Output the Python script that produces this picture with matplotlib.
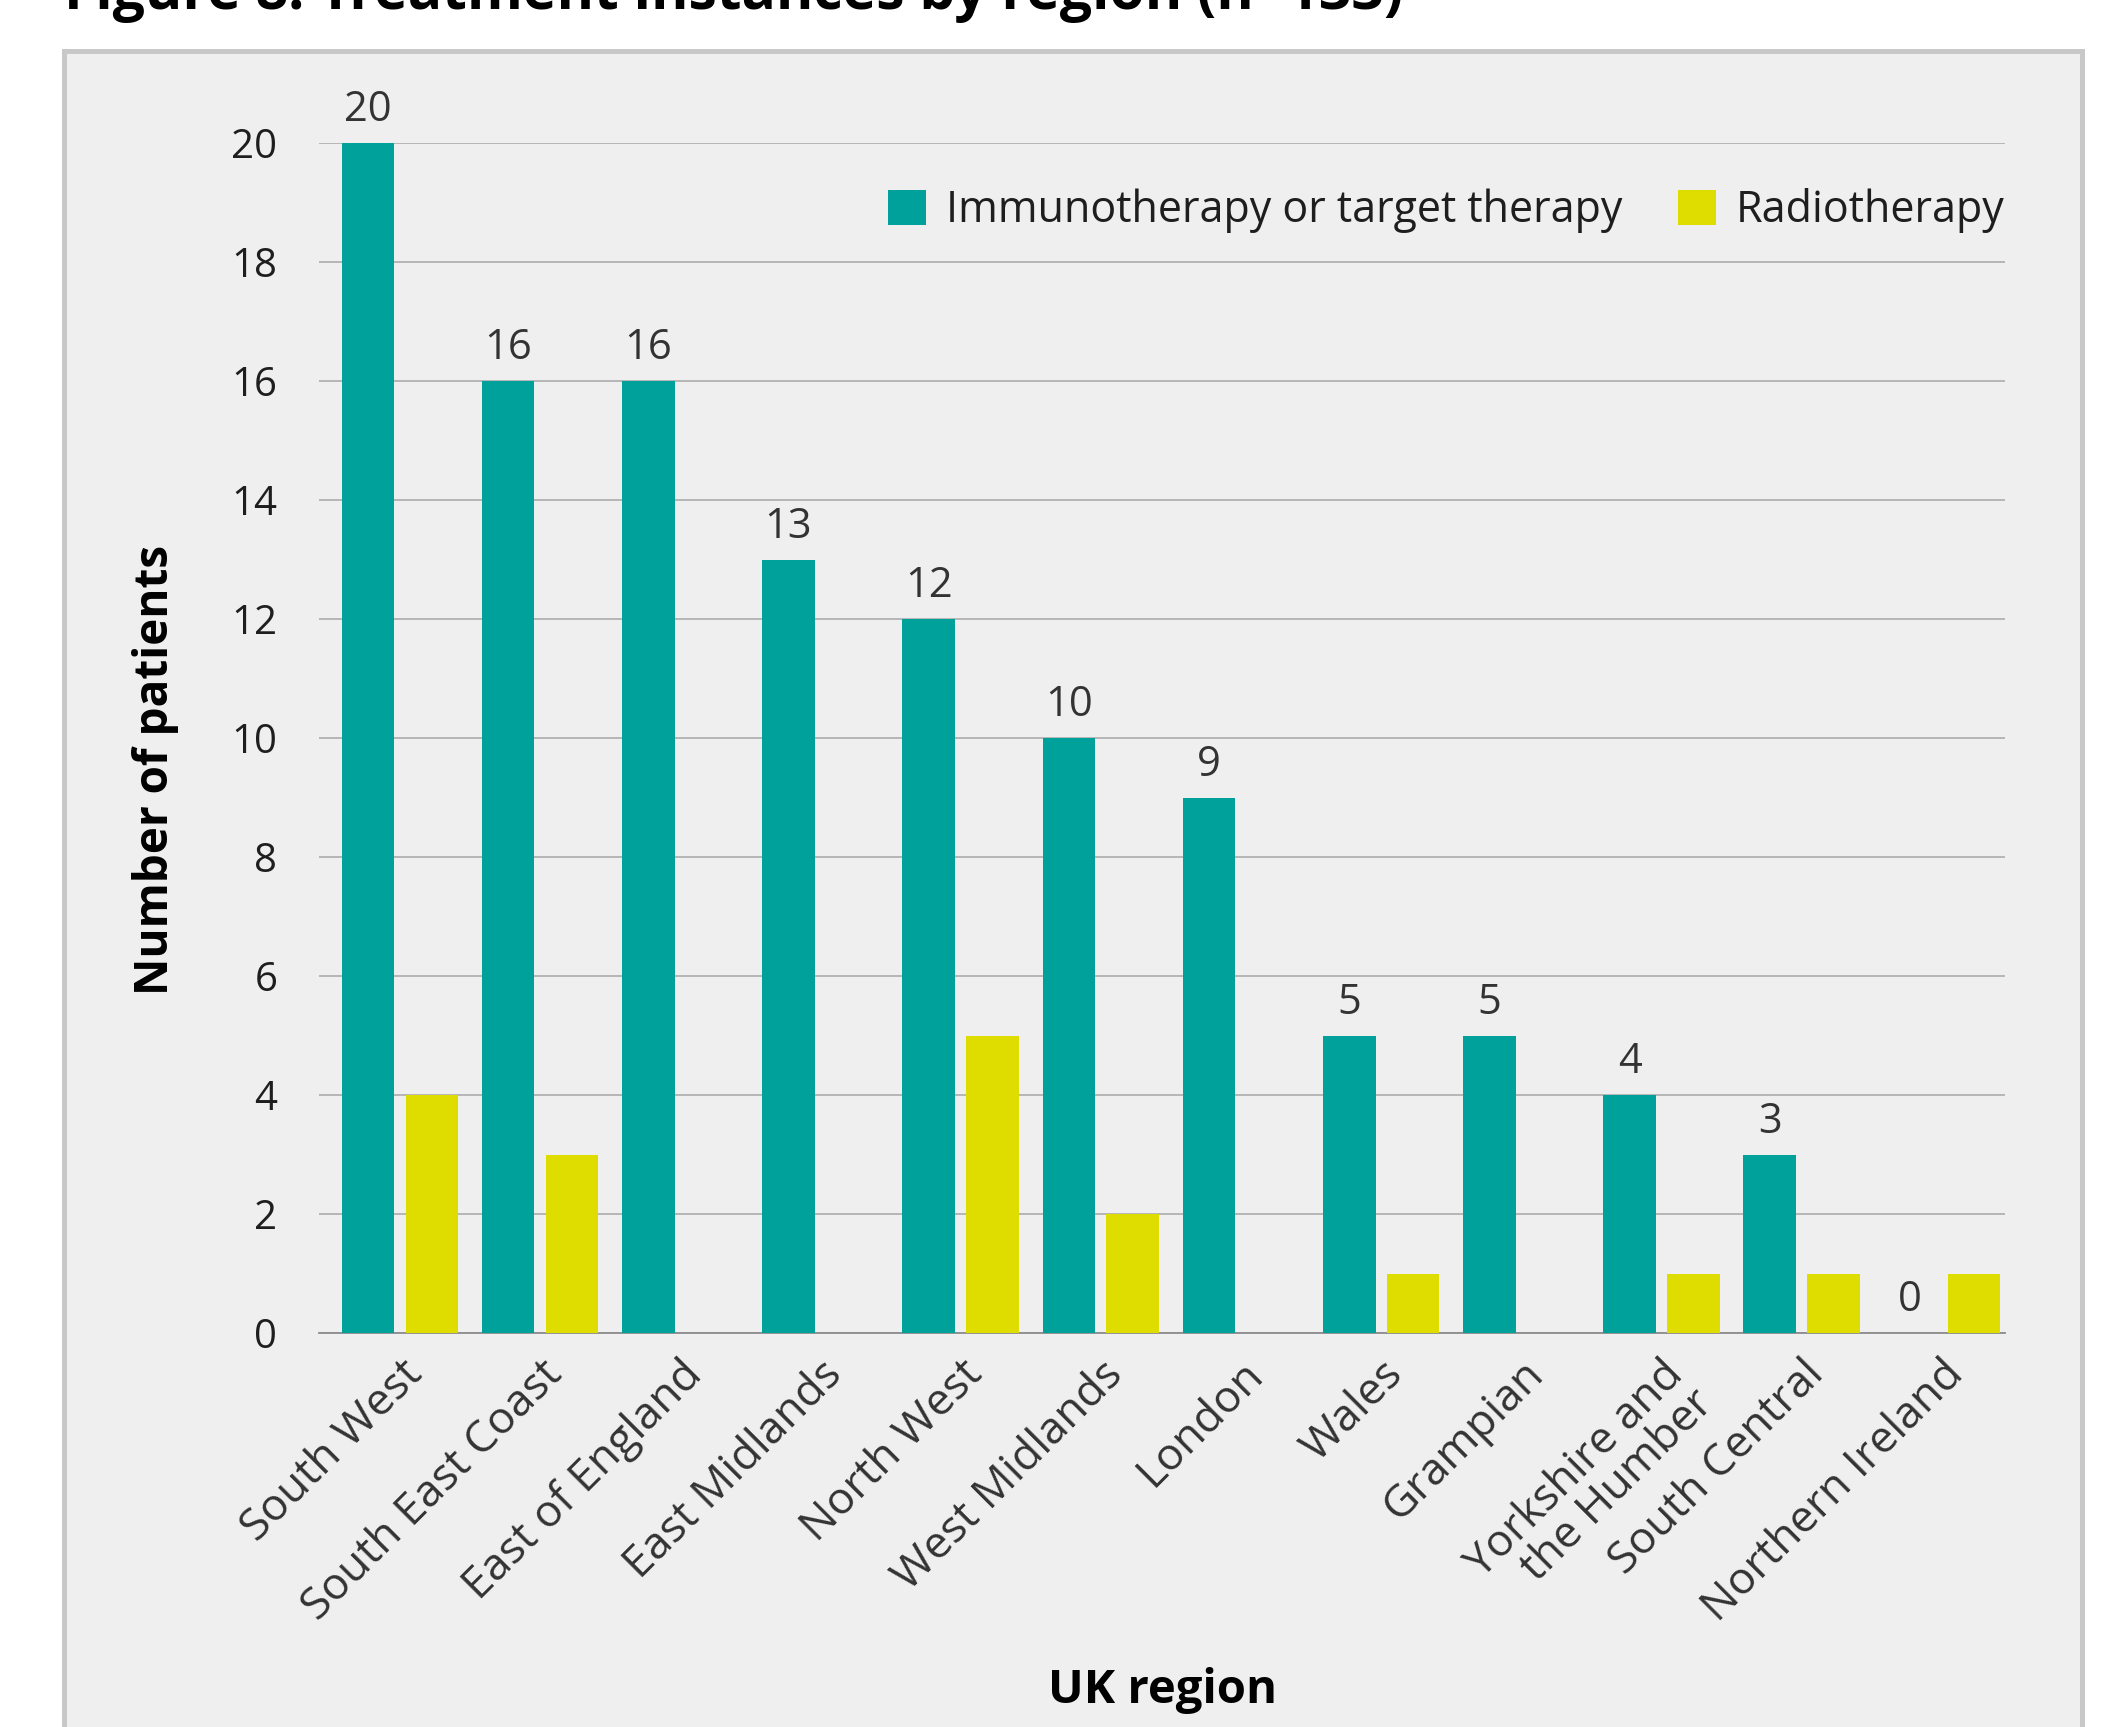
import matplotlib
matplotlib.use("Agg")
import matplotlib.pyplot as plt
import numpy as np
from matplotlib.patches import Rectangle

# ---------------------------------------------------------------- data
regions = ["South West", "South East Coast", "East of England", "East Midlands",
           "North West", "West Midlands", "London", "Wales", "Grampian",
           "Yorkshire and\nthe Humber", "South Central", "Northern Ireland"]
immuno = [20, 16, 16, 13, 12, 10, 9, 5, 5, 4, 3, 0]
radio = [4, 3, 0, 0, 5, 2, 0, 1, 0, 1, 1, 1]
yticks = list(range(0, 21, 2))

# ---------------------------------------------------------------- style
TEAL = "#00A19A"
YELLOW = "#DFDC00"
PANEL = "#EFEFEF"
BORDER = "#C8C8C8"
GRID = "#A6A6A6"
INK = "#1E1E1E"
plt.rcParams["font.family"] = ["Open Sans", "DejaVu Sans"]

W, H = 2120, 1727
fig = plt.figure(figsize=(W / 100, H / 100), dpi=100)
fig.patch.set_facecolor("white")

# grey panel behind the chart (runs off the bottom edge)
fig.add_artist(Rectangle((64 / W, -0.02), (2082 - 64) / W, 1 - 51 / H + 0.02,
                         transform=fig.transFigure, facecolor=PANEL,
                         edgecolor=BORDER, linewidth=3.6, zorder=0))

# title, cut off by the top edge as in the source page
fig.text(64 / W, 1 - 9 / H, "Figure 8: Treatment instances by region (n=133)",
         ha="left", va="baseline", fontsize=41, fontweight="bold", color="black")

ax = fig.add_axes([319 / W, 1 - 1333 / H, (2005 - 319) / W, (1333 - 143) / H])
ax.patch.set_alpha(0)

x = np.arange(len(regions))
bw = 0.375
off = 0.228
ax.bar(x - off, immuno, width=bw, color=TEAL, zorder=3,
       label="Immunotherapy or target therapy")
ax.bar(x + off, radio, width=bw, color=YELLOW, zorder=3,
       label="Radiotherapy")

for xi, v in zip(x, immuno):
    ax.text(xi - off, v + 0.2, str(v), ha="center", va="bottom",
            fontsize=30, color="#333333", clip_on=False, zorder=5)

ax.set_xlim(-0.577, 11.45)
ax.set_ylim(0, 20)
ax.set_yticks(yticks)
ax.set_yticklabels([str(t) for t in yticks], fontsize=29, color=INK)
ax.yaxis.grid(True, color=GRID, linewidth=1.1, zorder=1)
ax.tick_params(axis="y", length=0, pad=30)
ax.set_xticks(x)
ax.set_xticklabels(regions, rotation=45, ha="right", rotation_mode="anchor",
                   fontsize=32, color="#333333", linespacing=0.9)
ax.tick_params(axis="x", length=0, pad=14)
for s in ax.spines.values():
    s.set_visible(False)
ax.spines["bottom"].set_visible(True)
ax.spines["bottom"].set_color("#8C8C8C")
ax.spines["bottom"].set_linewidth(1.3)

ax.set_ylabel("Number of patients", fontsize=33, fontweight="bold",
              color="black")
ax.yaxis.set_label_coords(-0.083, 0.473)
fig.text(0.5 * (319 + 2005) / W, 1 - 1690 / H, "UK region", ha="center",
         va="center", fontsize=34, fontweight="bold", color="black")

leg = ax.legend(loc="upper right", bbox_to_anchor=(1.0, 0.962), ncol=2,
                frameon=False, fontsize=31, handlelength=0.88,
                handleheight=0.88, handletextpad=0.47, columnspacing=1.3,
                borderaxespad=0, borderpad=0)
for t in leg.get_texts():
    t.set_color(INK)

fig.savefig("out.png", dpi=100, facecolor="white")
